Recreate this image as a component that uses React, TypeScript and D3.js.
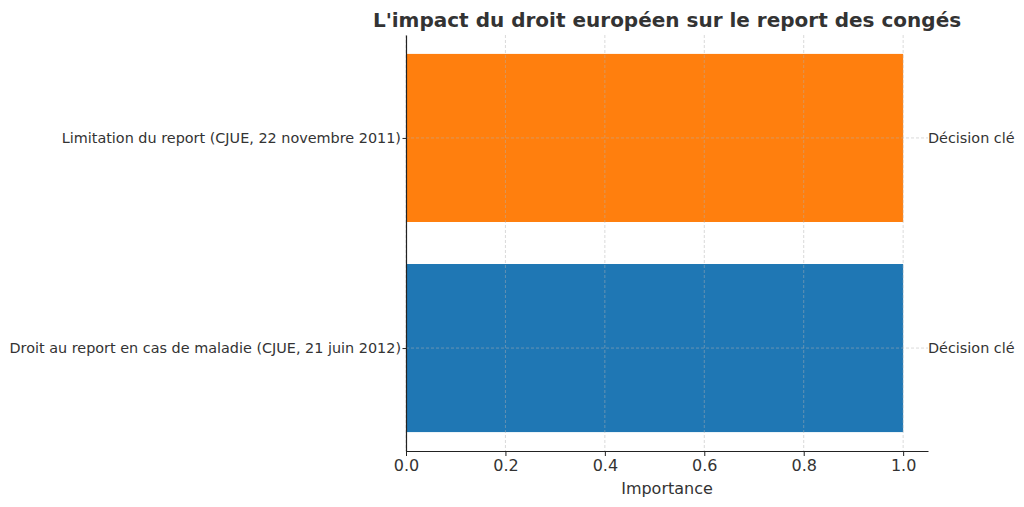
import React, { useEffect, useRef } from "react";
import * as d3 from "d3";

const categories = [
  "Droit au report en cas de maladie (CJUE, 21 juin 2012)",
  "Limitation du report (CJUE, 22 novembre 2011)",
];
const values = [1, 1];
const colors = ["#1f77b4", "#ff7f0e"];
const sideLabels = ["Décision clé", "Décision clé"];
const xTicks = [0, 0.2, 0.4, 0.6, 0.8, 1.0];

const App: React.FC = () => {
  const svgRef = useRef<SVGSVGElement | null>(null);

  useEffect(() => {
    const svg = d3.select(svgRef.current);
    svg.selectAll("*").remove();

    const width = 1024;
    const height = 507;
    const left = 406;
    const right = 928;
    const top = 35;
    const bottom = 451;
    const font = "DejaVu Sans, sans-serif";
    const textColor = "#333";

    svg.attr("width", width).attr("height", height);

    const x = d3.scaleLinear().domain([0, 1.05]).range([left, right]);
    const y = d3.scaleLinear().domain([-0.49, 1.49]).range([bottom, top]);
    const barHalf = 0.4;

    // bars
    svg
      .append("g")
      .selectAll("rect")
      .data(values)
      .enter()
      .append("rect")
      .attr("x", x(0))
      .attr("y", (_, i) => y(i + barHalf))
      .attr("width", (d) => x(d) - x(0))
      .attr("height", (_, i) => y(i - barHalf) - y(i + barHalf))
      .attr("fill", (_, i) => colors[i]);

    // grid
    const grid = svg.append("g").attr("stroke", "#b0b0b0").attr("stroke-opacity", 0.6)
      .attr("stroke-width", 0.8).attr("stroke-dasharray", "3,2");
    grid
      .selectAll("line.v")
      .data(xTicks)
      .enter()
      .append("line")
      .attr("x1", (d) => x(d))
      .attr("x2", (d) => x(d))
      .attr("y1", top)
      .attr("y2", bottom);
    grid
      .selectAll("line.h")
      .data(categories)
      .enter()
      .append("line")
      .attr("x1", left)
      .attr("x2", right)
      .attr("y1", (_, i) => y(i))
      .attr("y2", (_, i) => y(i));

    // x axis
    const xAxis = d3
      .axisBottom(x)
      .tickValues(xTicks)
      .tickFormat(d3.format(".1f") as any)
      .tickSize(5)
      .tickSizeOuter(0)
      .tickPadding(4);
    const xg = svg.append("g").attr("transform", `translate(0,${bottom})`).call(xAxis);
    xg.select(".domain").attr("stroke", "#222").attr("stroke-width", 1.2);
    xg.selectAll(".tick line").attr("stroke", "#222");
    xg.selectAll(".tick text")
      .style("font-family", font)
      .style("font-size", "16px")
      .attr("fill", textColor);

    // y axis
    const yAxis = d3
      .axisLeft(y)
      .tickValues([0, 1])
      .tickFormat((d) => categories[d as number])
      .tickSize(3.5)
      .tickSizeOuter(0)
      .tickPadding(1.5);
    const yg = svg.append("g").attr("transform", `translate(${left},0)`).call(yAxis);
    yg.select(".domain").attr("stroke", "#222").attr("stroke-width", 1.2);
    yg.selectAll(".tick line").attr("stroke", "#222");
    yg.selectAll(".tick text")
      .style("font-family", font)
      .style("font-size", "14.4px")
      .attr("fill", textColor);

    // side labels
    svg
      .append("g")
      .selectAll("text")
      .data(sideLabels)
      .enter()
      .append("text")
      .attr("x", right)
      .attr("y", (_, i) => y(i))
      .attr("dy", "0.35em")
      .style("font-family", font)
      .style("font-size", "14.4px")
      .attr("fill", textColor)
      .text((d) => d);

    // axis label
    svg
      .append("text")
      .attr("x", (left + right) / 2)
      .attr("y", 494)
      .attr("text-anchor", "middle")
      .style("font-family", font)
      .style("font-size", "16px")
      .attr("fill", textColor)
      .text("Importance");

    // title
    svg
      .append("text")
      .attr("x", 667)
      .attr("y", 27)
      .attr("text-anchor", "middle")
      .style("font-family", font)
      .style("font-size", "20px")
      .style("font-weight", "bold")
      .attr("fill", textColor)
      .text("L'impact du droit européen sur le report des congés");
  }, []);

  return <svg ref={svgRef} style={{ position: "absolute", left: 0, top: 0 }} />;
};

export default App;
